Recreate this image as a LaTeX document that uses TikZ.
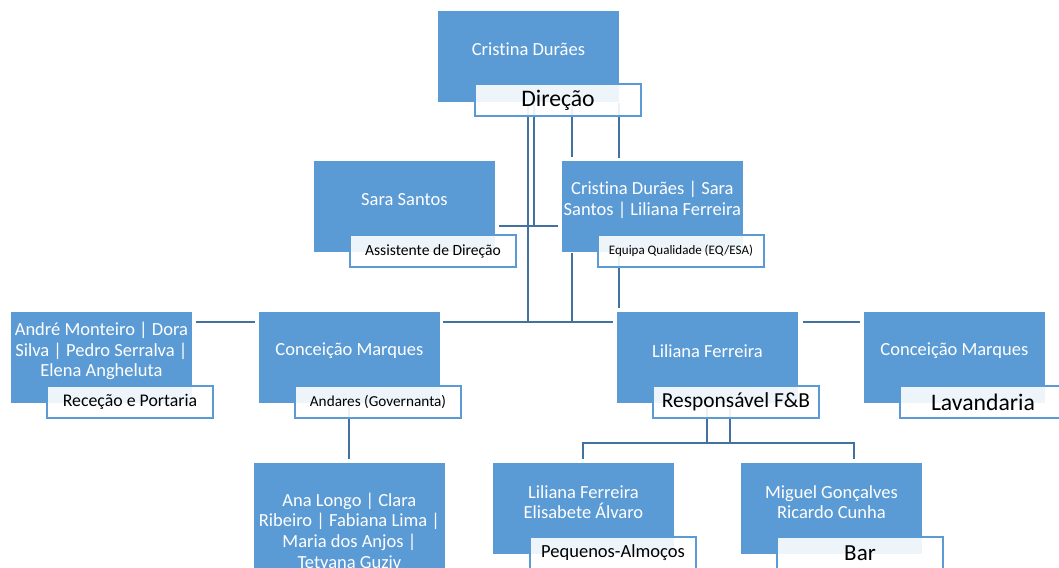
\documentclass[tikz,border=0pt]{standalone}
\usepackage{fontspec}
\setmainfont{Carlito}[Ligatures=NoCommon]
\usetikzlibrary{calc}
\definecolor{boxblue}{RGB}{91,155,213}
\definecolor{linkblue}{RGB}{68,114,160}
\definecolor{roleblue}{RGB}{91,155,213}
\pgfdeclarelayer{bg}
\pgfsetlayers{bg,main}
\begin{document}
\begin{tikzpicture}[x=1pt,y=-1pt,
  personbox/.style={fill=boxblue, draw=white, line width=0.8pt, minimum width=182pt, minimum height=92pt, anchor=north west, inner sep=0pt},
  rolebox/.style={fill=white, fill opacity=0.9, text opacity=1, draw=roleblue, line width=2pt, minimum width=166pt, minimum height=32pt, anchor=north west, inner sep=0pt, text=black},
  nametext/.style={text=white, align=center, inner sep=0pt, font=\fontsize{18.5}{20.6}\selectfont},
  linkline/.style={draw=linkblue, line width=2pt}]
\useasboundingbox (0,0) rectangle (1059,567);
\clip (0,0) rectangle (1059,567);

% person boxes
\node[personbox] (cd) at (437,10) {};
\node[personbox] (ss) at (313,160) {};
\node[personbox] (eq) at (561,160) {};
\node[personbox] (rp) at (10,311) {};
\node[personbox] (and) at (258,311) {};
\node[personbox] (fb) at (616,311) {};
\node[personbox] (lav) at (863,311) {};
\node[personbox, minimum width=192pt, minimum height=130pt] (ana) at (253,462) {};
\node[personbox] (pa) at (492,462) {};
\node[personbox] (bar) at (740,462) {};

% names
\node[nametext] (cdT) at ($(cd.north)+(0,39)$) {Cristina Durães};
\node[nametext] (ssT) at ($(ss.north)+(0,40)$) {Sara Santos};
\node[nametext] (eqT) at ($(eq.north)+(0,40)$) {Cristina Durães | Sara\\Santos | Liliana Ferreira};
\node[nametext] (rpT) at ($(rp.north)+(0,40)$) {André Monteiro | Dora\\Silva | Pedro Serralva |\\Elena Angheluta};
\node[nametext] (andT) at ($(and.north)+(0,40)$) {Conceição Marques};
\node[nametext] (fbT) at ($(fb.north)+(0,40)$) {Liliana Ferreira};
\node[nametext] (lavT) at ($(lav.north)+(0,40)$) {Conceição Marques};
\node[nametext] (anaT) at ($(ana.north)+(0,70)$) {Ana Longo | Clara\\Ribeiro | Fabiana Lima |\\Maria dos Anjos |\\Tetyana Guziv};
\node[nametext] (paT) at ($(pa.north)+(0,40)$) {Liliana Ferreira\\Elisabete Álvaro};
\node[nametext] (barT) at ($(bar.north)+(0,40)$) {Miguel Gonçalves\\Ricardo Cunha};

% role labels
\node[rolebox, font=\fontsize{23.7}{28}\selectfont] (cdR) at (474,83) {Direção};
\node[rolebox, font=\fontsize{15.6}{18}\selectfont] (ssR) at (349,234) {Assistente de Direção};
\node[rolebox, font=\fontsize{13}{15}\selectfont] (eqR) at (597,234) {Equipa Qualidade (EQ/ESA)};
\node[rolebox, font=\fontsize{17.8}{20}\selectfont] (rpR) at (46,385) {Receção e Portaria};
\node[rolebox, font=\fontsize{15.25}{18}\selectfont] (andR) at (294,385) {Andares (Governanta)};
\node[rolebox, font=\fontsize{21.4}{25}\selectfont] (fbR) at (652,385) {Responsável F\&B};
\node[rolebox, font=\fontsize{23.7}{28}\selectfont] (lavR) at (899,385) {Lavandaria};
\node[rolebox, font=\fontsize{18.5}{21}\selectfont] (paR) at (529,536) {Pequenos-Almoços};
\node[rolebox, font=\fontsize{23}{27}\selectfont] (barR) at (776,536) {Bar};

% connectors
\coordinate (bus3) at (0,322);
\coordinate (busA) at (0,226);
\coordinate (busF) at (0,443);
\coordinate (x1) at ($(cd.south west)+(91,0)$);
\coordinate (x2) at ($(cd.south west)+(97,0)$);
\coordinate (x3) at ($(eq.north west)+(11,0)$);
\coordinate (x4) at ($(eq.north west)+(58,0)$);
\coordinate (x5) at ($(fb.south)+(23,0)$);
\coordinate (x6) at ($(bar.north)+(23,0)$);
\begin{pgfonlayer}{bg}
\draw[linkline] (x1 |- cd.center) -- (x1 |- bus3);
\draw[linkline] (x2 |- cd.center) -- (x2 |- busA);
\draw[linkline] ($(ss.east |- busA)+(3,0)$) -- ($(eq.west |- busA)+(-3,0)$);
\draw[linkline] (x3 |- cd.center) -- ($(x3)+(0,-3)$);
\draw[linkline] (x3 |- eq.center) -- (x3 |- bus3);
\draw[linkline] (x4 |- cd.center) -- ($(x4)+(0,-2)$);
\draw[linkline] (x4 |- eq.center) -- ($(x4 |- fb.north)+(0,-3)$);
\draw[linkline] ($(rp.east |- bus3)+(3,0)$) -- ($(and.west |- bus3)+(-3,0)$);
\draw[linkline] ($(and.east |- bus3)+(2,0)$) -- ($(fb.west |- bus3)+(-3,0)$);
\draw[linkline] ($(fb.east |- bus3)+(4,0)$) -- ($(lav.west |- bus3)+(-3,0)$);
\draw[linkline] (and.center) -- ($(and.center |- ana.north)+(0,-3)$);
\draw[linkline] (fb.center) -- (fb.center |- busF);
\draw[linkline] (x5 |- fb.center) -- (x5 |- busF);
\draw[linkline] ($(pa.north)+(0,-3)$) -- (pa.north |- busF) -- (x6 |- busF) -- ($(x6)+(0,-3)$);
\end{pgfonlayer}
\end{tikzpicture}
\end{document}
